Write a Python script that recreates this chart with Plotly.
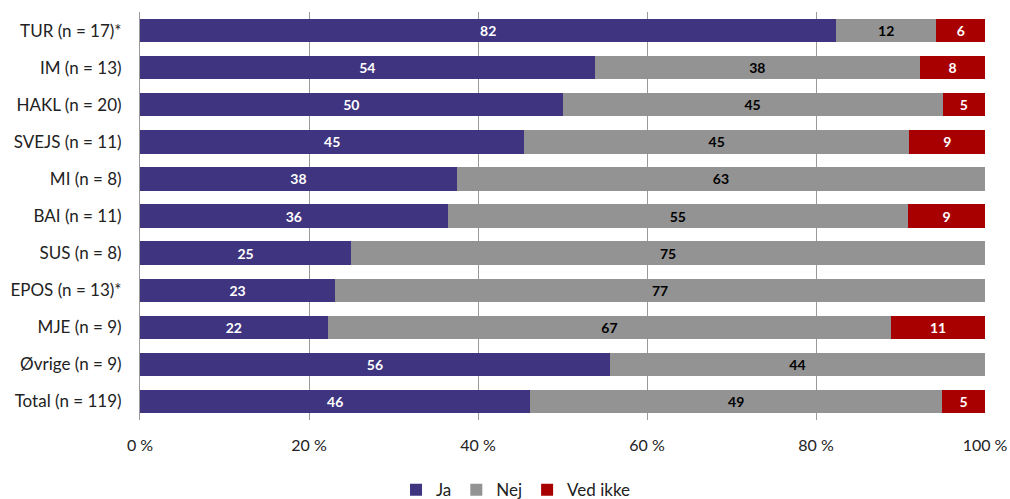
import plotly.graph_objects as go

categories = ["TUR (n = 17)*", "IM (n = 13)", "HAKL (n = 20)", "SVEJS (n = 11)", "MI (n = 8)",
              "BAI (n = 11)", "SUS (n = 8)", "EPOS (n = 13)*", "MJE (n = 9)", "Øvrige (n = 9)",
              "Total (n = 119)"]
ja = [82.4, 53.8, 50.0, 45.5, 37.5, 36.4, 25.0, 23.1, 22.2, 55.6, 46.2]
nej = [11.8, 38.5, 45.0, 45.5, 62.5, 54.5, 75.0, 76.9, 66.7, 44.4, 48.7]
ved_ikke = [5.9, 7.7, 5.0, 9.1, 0, 9.1, 0, 0, 11.1, 0, 5.1]
ja_labels = ["82", "54", "50", "45", "38", "36", "25", "23", "22", "56", "46"]
nej_labels = ["12", "38", "45", "45", "63", "55", "75", "77", "67", "44", "49"]
ved_ikke_labels = ["6", "8", "5", "9", "", "9", "", "", "11", "", "5"]
x_ticks = [0, 20, 40, 60, 80, 100]
x_ticklabels = ["0 %", "20 %", "40 %", "60 %", "80 %", "100 %"]

FONT = "Lato"

fig = go.Figure()
series = [
    ("Ja", ja, ja_labels, "#3F3480", "white"),
    ("Nej", nej, nej_labels, "#939393", "black"),
    ("Ved ikke", ved_ikke, ved_ikke_labels, "#A80000", "white"),
]
for name, vals, labs, color, tcolor in series:
    fig.add_trace(go.Bar(
        name=name, y=categories, x=vals, orientation="h",
        marker=dict(color=color, line=dict(width=0)),
        text=labs, textposition="inside", insidetextanchor="middle",
        textangle=0, constraintext="none",
        textfont=dict(family=FONT, size=14, color=tcolor, weight="bold"),
        hoverinfo="x+name",
    ))

fig.update_layout(
    barmode="stack", bargap=0.37,
    width=1010, height=499,
    margin=dict(l=140, r=25, t=12, b=79, autoexpand=False),
    plot_bgcolor="white", paper_bgcolor="white",
    font=dict(family=FONT, size=17, color="#222"),
    legend=dict(orientation="h", x=0.445, xanchor="center", y=-0.172, yanchor="middle",
                font=dict(family=FONT, size=17, color="#222"), traceorder="normal",
                itemwidth=30),
    xaxis=dict(range=[0, 100], tickvals=x_ticks, ticktext=x_ticklabels,
               showgrid=True, gridcolor="#9a9a9a", gridwidth=1, zeroline=False,
               showline=False, ticks="", ticklabelstandoff=14, automargin=False,
               tickfont=dict(family=FONT, size=16, color="#222")),
    yaxis=dict(autorange="reversed", showgrid=False, showline=True, linecolor="#9a9a9a",
               linewidth=1, ticks="", ticklabelstandoff=14, automargin=False,
               tickfont=dict(family=FONT, size=17, color="#222")),
)

fig.write_html("out.html", config={"displayModeBar": False},
               post_script="document.body.style.margin='0';document.body.style.overflow='hidden';")
